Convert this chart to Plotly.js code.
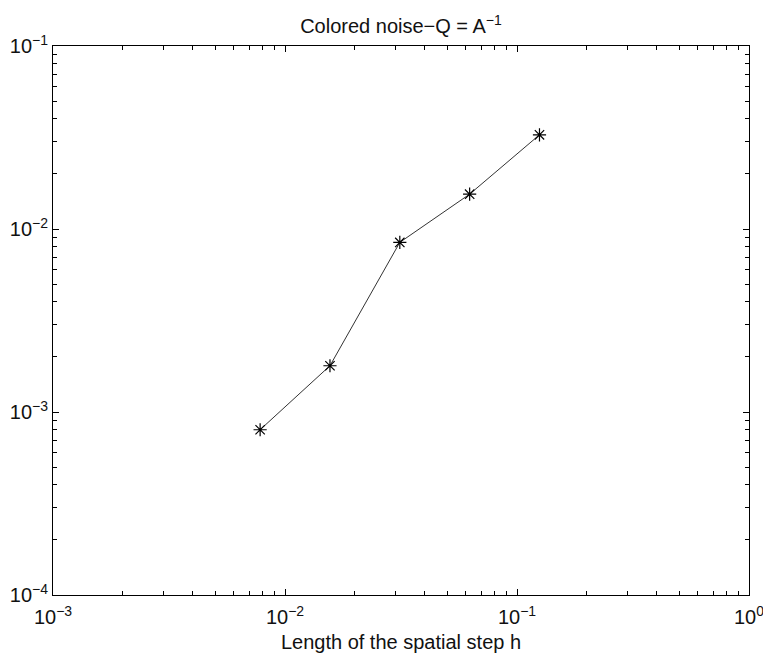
<!DOCTYPE html>
<html>
<head>
<meta charset="utf-8">
<script src="https://cdn.plot.ly/plotly-3.0.1.min.js"></script>
<style>
  html, body { margin: 0; padding: 0; background: #fff; }
  #chart { width: 763px; height: 657px; }
</style>
</head>
<body>
<div id="chart"></div>
<script>
// Spatial step sizes h and the measured errors
const stepH = [1/128, 1/64, 1/32, 1/16, 1/8];
const errorValues = [0.00080, 0.00179, 0.00845, 0.0155, 0.0327];

// Decade tick exponents on each axis
const xExponents = [-3, -2, -1, 0];
const yExponents = [-4, -3, -2, -1];

const powerLabel = p => '10<sup>' + (p < 0 ? '\u2212' + Math.abs(p) : String(p)) + '</sup>';

// Minor ticks at 2..9 within each decade
const minorTicks = exps => {
  const out = [];
  for (let i = 0; i < exps.length - 1; i++) {
    for (let m = 2; m <= 9; m++) out.push(m * Math.pow(10, exps[i]));
  }
  return out;
};

const FONT = 'Liberation Sans, Arial, Helvetica, sans-serif';

const axisCommon = {
  type: 'log',
  showline: true,
  linecolor: '#000',
  linewidth: 1,
  mirror: 'ticks',
  ticks: 'inside',
  ticklen: 6,
  tickcolor: '#000',
  tickwidth: 1,
  showgrid: false,
  zeroline: false,
  tickmode: 'array',
  ticklabeloverflow: 'allow',
  tickfont: { family: FONT, size: 20, color: '#111' },
};

const trace = {
  x: stepH,
  y: errorValues,
  type: 'scatter',
  mode: 'lines+markers',
  line: { color: '#333', width: 1 },
  marker: { symbol: 'asterisk-open', size: 11, color: '#000', line: { color: '#000', width: 1.2 } },
  showlegend: false,
  hoverinfo: 'x+y'
};

const layout = {
  width: 763,
  height: 657,
  margin: { l: 53, r: 14, t: 46, b: 62 },
  paper_bgcolor: '#fff',
  plot_bgcolor: '#fff',
  font: { family: FONT, color: '#111' },
  title: {
    text: 'Colored noise\u2212Q = A<sup>\u22121</sup>',
    font: { family: FONT, size: 20, color: '#111' },
    xref: 'paper', x: 0.5, xanchor: 'center',
    y: 1 - 26 / 657, yanchor: 'middle'
  },
  xaxis: Object.assign({}, axisCommon, {
    range: [-3, 0],
    tickvals: xExponents.map(p => Math.pow(10, p)),
    ticktext: xExponents.map(powerLabel),
    ticklabelstandoff: 4,
    minor: { tickmode: 'array', tickvals: minorTicks(xExponents), ticks: 'inside', ticklen: 4, tickcolor: '#000', tickwidth: 1, showgrid: false },
    title: { text: 'Length of the spatial step h', font: { family: FONT, size: 20, color: '#111' }, standoff: 7 }
  }),
  yaxis: Object.assign({}, axisCommon, {
    range: [-4, -1],
    tickvals: yExponents.map(p => Math.pow(10, p)),
    ticktext: yExponents.map(powerLabel),
    minor: { tickmode: 'array', tickvals: minorTicks(yExponents), ticks: 'inside', ticklen: 4, tickcolor: '#000', tickwidth: 1, showgrid: false }
  })
};

Plotly.newPlot('chart', [trace], layout, { displayModeBar: false, staticPlot: true });
</script>
</body>
</html>
